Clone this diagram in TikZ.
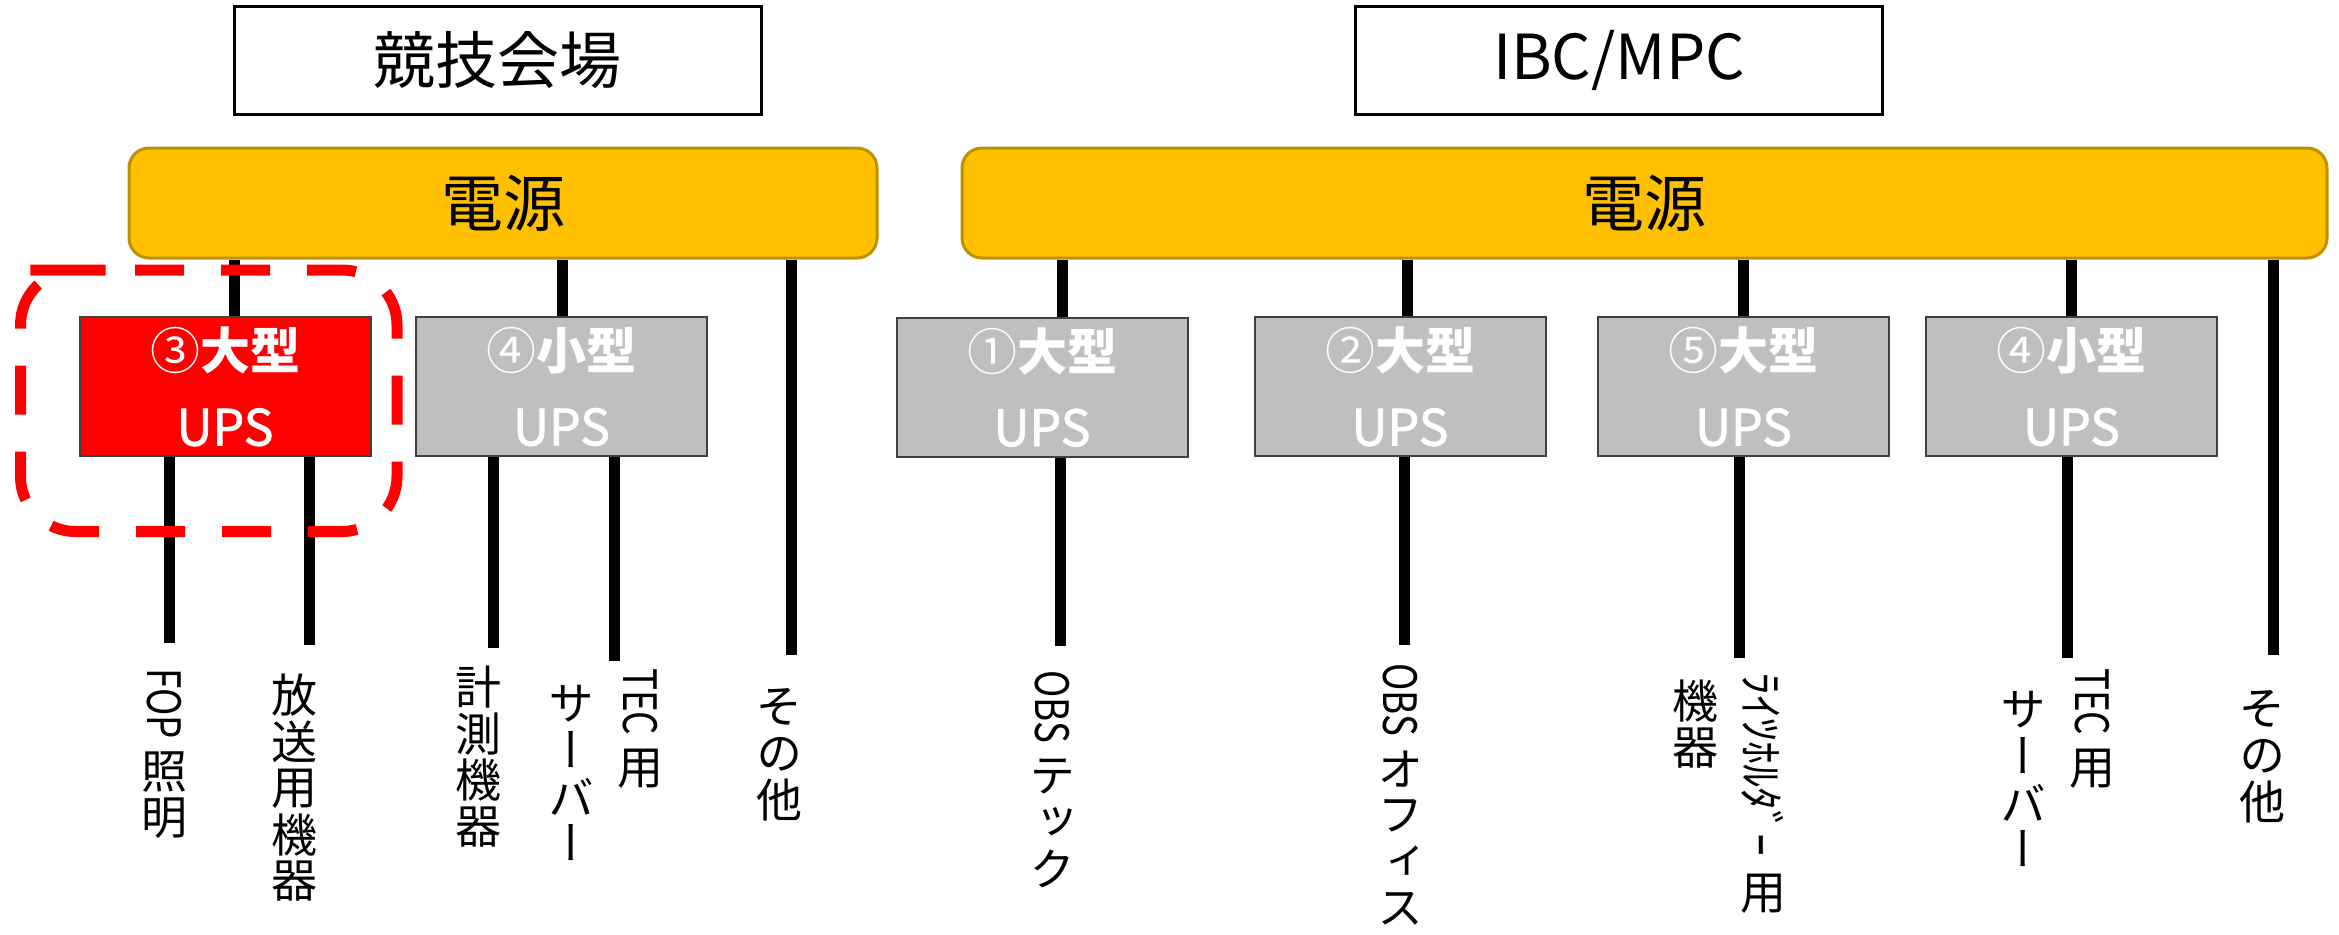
\documentclass[tikz,border=0pt]{standalone}
\usepackage{fontspec}
\usepackage{graphicx}
\setmainfont{Noto Sans CJK JP}
\newfontfamily\vfont[RawFeature=+vert]{Noto Sans CJK JP}
\newfontfamily\upsfont[FakeBold=1.6]{Noto Sans CJK JP}
\usetikzlibrary{calc}
\definecolor{gold}{HTML}{FFC000}
\definecolor{goldedge}{HTML}{BF9000}
\definecolor{upsgray}{HTML}{BFBFBF}
\definecolor{upsred}{HTML}{FF0000}
\definecolor{edgegray}{HTML}{404040}
\newcommand\slotc[1]{\hbox to 50pt{\hss\vbox to 46.5pt{\vss\hbox{#1}\vss}\hss}}
\newcommand\slotl[2][10pt]{\hbox to 50pt{\hss\rotatebox{-90}{\scalebox{0.8}[1]{#2}}\hss}\kern#1}
\newcommand\slotk[2][10pt]{\hbox to 50pt{\hss\rotatebox{-90}{#2}\hss}\kern#1}
\newcommand\vcol[1]{\vbox{\offinterlineskip #1}}
\newcommand\upsname[2]{{#1\bfseries #2}\\{\upsfont UPS}}
\tikzset{
  titlebox/.style={draw=black, line width=3pt, fill=white, minimum width=527pt, minimum height=107pt, inner sep=0pt, font=\fontsize{62pt}{70pt}\selectfont},
  powerbox/.style={draw=goldedge, line width=3pt, fill=gold, rounded corners=20pt, minimum height=110pt, inner sep=0pt, font=\fontsize{62pt}{70pt}\selectfont},
  upsbox/.style={draw=edgegray, line width=2pt, minimum width=291pt, minimum height=139pt, inner sep=0pt, text=white, align=center, font=\fontsize{50pt}{76pt}\selectfont},
  conn/.style={draw=black, line width=11pt},
  reddash/.style={draw=upsred, line width=11pt, dash pattern=on 49pt off 37pt, rounded corners=55pt},
  vlabel/.style={anchor=north, inner sep=0pt, font=\vfont\fontsize{46pt}{46pt}\selectfont}
}
\begin{document}
\begin{tikzpicture}[x=1pt,y=-1pt]
\useasboundingbox (0,0) rectangle (2339,934);
% title boxes
\node[titlebox] (tL) at (497.5,60.5) {競技会場};
\node[titlebox] (tR) at (1619,60.5) {IBC/MPC};
% power boxes
\node[powerbox, minimum width=748pt] (pL) at (503,203) {電源};
\node[powerbox, minimum width=1365pt] (pR) at (1644.5,203) {電源};
% UPS boxes
\node[upsbox, fill=upsred] (u3) at (225,386.5) {\upsname{③}{大型}};
\node[upsbox, fill=upsgray] (u4L) at (561.5,386.5) {\upsname{④}{小型}};
\node[upsbox, fill=upsgray] (u1) at (1042,387) {\upsname{①}{大型}};
\node[upsbox, fill=upsgray] (u2) at (1400,386.5) {\upsname{②}{大型}};
\node[upsbox, fill=upsgray] (u5) at (1743.5,386.5) {\upsname{⑤}{大型}};
\node[upsbox, fill=upsgray] (u4R) at (2071.5,386.5) {\upsname{④}{小型}};
% free ends of connectors
\coordinate (eFOP) at (169,643);
\coordinate (eHoso) at (309,645);
\coordinate (eKei) at (493,648);
\coordinate (eTecL) at (614,661);
\coordinate (eEtcL) at (791,655);
\coordinate (eObs1) at (1060,646);
\coordinate (eObs2) at (1404,645);
\coordinate (eRights) at (1739,658);
\coordinate (eTecR) at (2067,658);
\coordinate (eEtcR) at (2273,655);
% connectors power -> UPS
\draw[conn] (pL.south -| 234,0) -- (u3.north -| 234,0);
\draw[conn] (pL.south -| 562,0) -- (u4L.north -| 562,0);
\draw[conn] (pL.south -| eEtcL) -- (eEtcL);
\draw[conn] (pR.south -| 1062,0) -- (u1.north -| 1062,0);
\draw[conn] (pR.south -| 1407,0) -- (u2.north -| 1407,0);
\draw[conn] (pR.south -| 1743,0) -- (u5.north -| 1743,0);
\draw[conn] (pR.south -| 2071,0) -- (u4R.north -| 2071,0);
\draw[conn] (pR.south -| eEtcR) -- (eEtcR);
% connectors UPS -> loads
\draw[conn] (u3.south -| eFOP) -- (eFOP);
\draw[conn] (u3.south -| eHoso) -- (eHoso);
\draw[conn] (u4L.south -| eKei) -- (eKei);
\draw[conn] (u4L.south -| eTecL) -- (eTecL);
\draw[conn] (u1.south -| eObs1) -- (eObs1);
\draw[conn] (u2.south -| eObs2) -- (eObs2);
\draw[conn] (u5.south -| eRights) -- (eRights);
\draw[conn] (u4R.south -| eTecR) -- (eTecR);
% highlight
\draw[reddash] (80,270) -- (397,270) -- (397,531.5) -- (20.5,531.5) -- (20.5,270) -- cycle;
% vertical labels
\node[vlabel] (lFOP) at (164,668) {\vcol{\slotl{FOP}\slotc{照}\slotc{明}}};
\node[vlabel] (lHoso) at (294,672) {\vcol{\slotc{放}\slotc{送}\slotc{用}\slotc{機}\slotc{器}}};
\node[vlabel] (lKei) at (478,664) {\vcol{\slotc{計}\slotc{測}\slotc{機}\slotc{器}}};
\node[vlabel] (lTecLa) at (640,668) {\vcol{\slotl{TEC}\slotc{用}}};
\node[vlabel] (lTecLb) at (571,680) {\vcol{\slotc{サ}\slotc{ー}\slotc{バ}\slotc{ー}}};
\node[vlabel] (lEtcL) at (779,684) {\vcol{\slotc{そ}\slotc{の}\slotc{他}}};
\node[vlabel] (lObs1) at (1052,670) {\vcol{\slotl{OBS}\slotc{テ}\slotc{ッ}\slotc{ク}}};
\node[vlabel] (lObs2) at (1400,663) {\vcol{\slotl{OBS}\slotc{オ}\slotc{フ}\slotc{ィ}\slotc{ス}}};
\node[vlabel] (lRightsa) at (1763,672) {\vcol{\slotk[14pt]{ﾗｲﾂﾎﾙﾀﾞｰ}\slotc{用}}};
\node[vlabel] (lRightsb) at (1695,678) {\vcol{\slotc{機}\slotc{器}}};
\node[vlabel] (lTecRa) at (2092,668) {\vcol{\slotl{TEC}\slotc{用}}};
\node[vlabel] (lTecRb) at (2023,686) {\vcol{\slotc{サ}\slotc{ー}\slotc{バ}\slotc{ー}}};
\node[vlabel] (lEtcR) at (2262,686) {\vcol{\slotc{そ}\slotc{の}\slotc{他}}};
\end{tikzpicture}
\end{document}
